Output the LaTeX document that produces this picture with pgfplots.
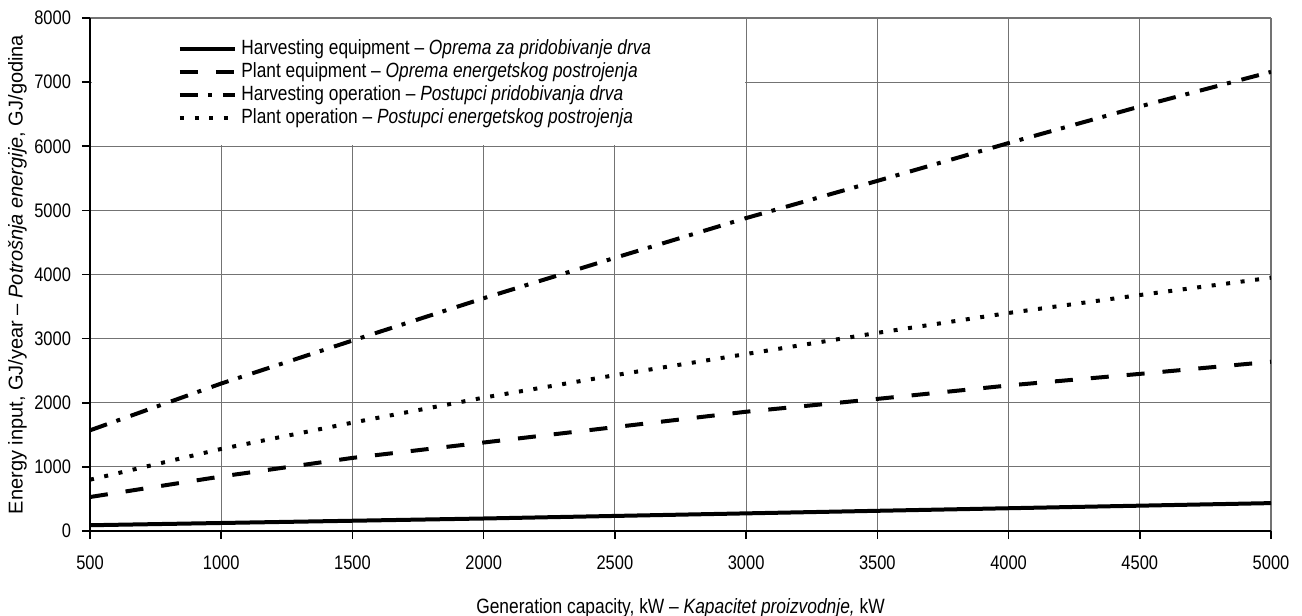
\documentclass[border=0pt]{standalone}
\usepackage{fontspec}
\setmainfont{Liberation Sans}[FakeStretch=0.84]
\newfontfamily\ylabfont{Liberation Sans}[Ligatures=TeX]
\usepackage{pgfplots}
\pgfplotsset{compat=1.18}

% energy input (GJ/year) against generation capacity (kW)
\pgfplotstableread{
kw    heq   peq   hop   pop
500   90    530   1570  800
1000  125   850   2300  1280
1500  160   1140  2970  1690
2000  195   1380  3630  2080
2500  235   1620  4260  2430
3000  275   1860  4880  2760
3500  315   2060  5460  3090
4000  355   2270  6050  3400
4500  395   2450  6620  3680
5000  435   2640  7160  3950
}\energy

\begin{document}
\begin{tikzpicture}
\begin{axis}[
  scale only axis,
  width=590.5pt, height=256.5pt,
  xmin=500, xmax=5000, ymin=0, ymax=8000,
  xtick={500,1000,...,5000},
  ytick={0,1000,...,8000},
  axis lines*=left,
  axis line style={line width=1pt},
  tick align=outside,
  major tick length=4pt,
  tick style={black, line width=0.8pt},
  grid=major,
  grid style={black!55, line width=0.55pt},
  /pgf/number format/assume math mode=true,
  /pgf/number format/set thousands separator={},
  ticklabel style={font=\fontsize{9.8}{11}\selectfont},
  xticklabel style={yshift=-5pt},
  yticklabel style={xshift=-2pt},
  xlabel={Generation capacity, kW -- \textit{Kapacitet proizvodnje,} kW},
  ylabel={\ylabfont Energy input, GJ/year -- \textit{Potrošnja energije}, GJ/godina},
  xlabel style={font=\fontsize{10.35}{12}\selectfont,
    at={(axis description cs:0.5,-0.16)}, anchor=base},
  ylabel style={font=\fontsize{10}{12}\selectfont,
    at={(axis description cs:-0.0615,0.5)}, anchor=center},
  legend cell align=left,
  legend image code/.code={\draw[#1] (0pt,0pt) -- (27.5pt,0pt);},
  legend style={
    at={(axis description cs:0.0741,0.962)}, anchor=north west,
    fill=none, draw=none, inner sep=0pt, row sep=0pt,
    nodes={inner xsep=2.25pt, inner ysep=1pt, text height=7.3pt, text depth=2.2pt},
    font=\fontsize{10.3}{11}\selectfont,
  },
]
% white patch behind the legend (hides the grid there)
\addplot[fill=white, draw=none, forget plot] coordinates {
  (506,6012) (2994,6012) (2994,7988) (506,7988)};
\addplot[black, line width=2pt] table[x=kw, y=heq] {\energy};
\addlegendentry{Harvesting equipment -- \textit{Oprema za pridobivanje drva}}
\addplot[black, line width=2pt, dash pattern=on 9pt off 9pt] table[x=kw, y=peq] {\energy};
\addlegendentry{Plant equipment -- \textit{Oprema energetskog postrojenja}}
\addplot[black, line width=2pt, dash pattern=on 9pt off 5pt on 2pt off 5.5pt] table[x=kw, y=hop] {\energy};
\addlegendentry{Harvesting operation -- \textit{Postupci pridobivanja drva}}
\addplot[black, line width=2pt, dash pattern=on 2pt off 5.3pt] table[x=kw, y=pop] {\energy};
\addlegendentry{Plant operation -- \textit{Postupci energetskog postrojenja}}
\end{axis}
\pgfresetboundingbox
\path[use as bounding box] (current axis.south west) ++(-45pt,-42pt) rectangle ([xshift=15.5pt,yshift=9pt]current axis.north east);
\end{tikzpicture}
\end{document}
